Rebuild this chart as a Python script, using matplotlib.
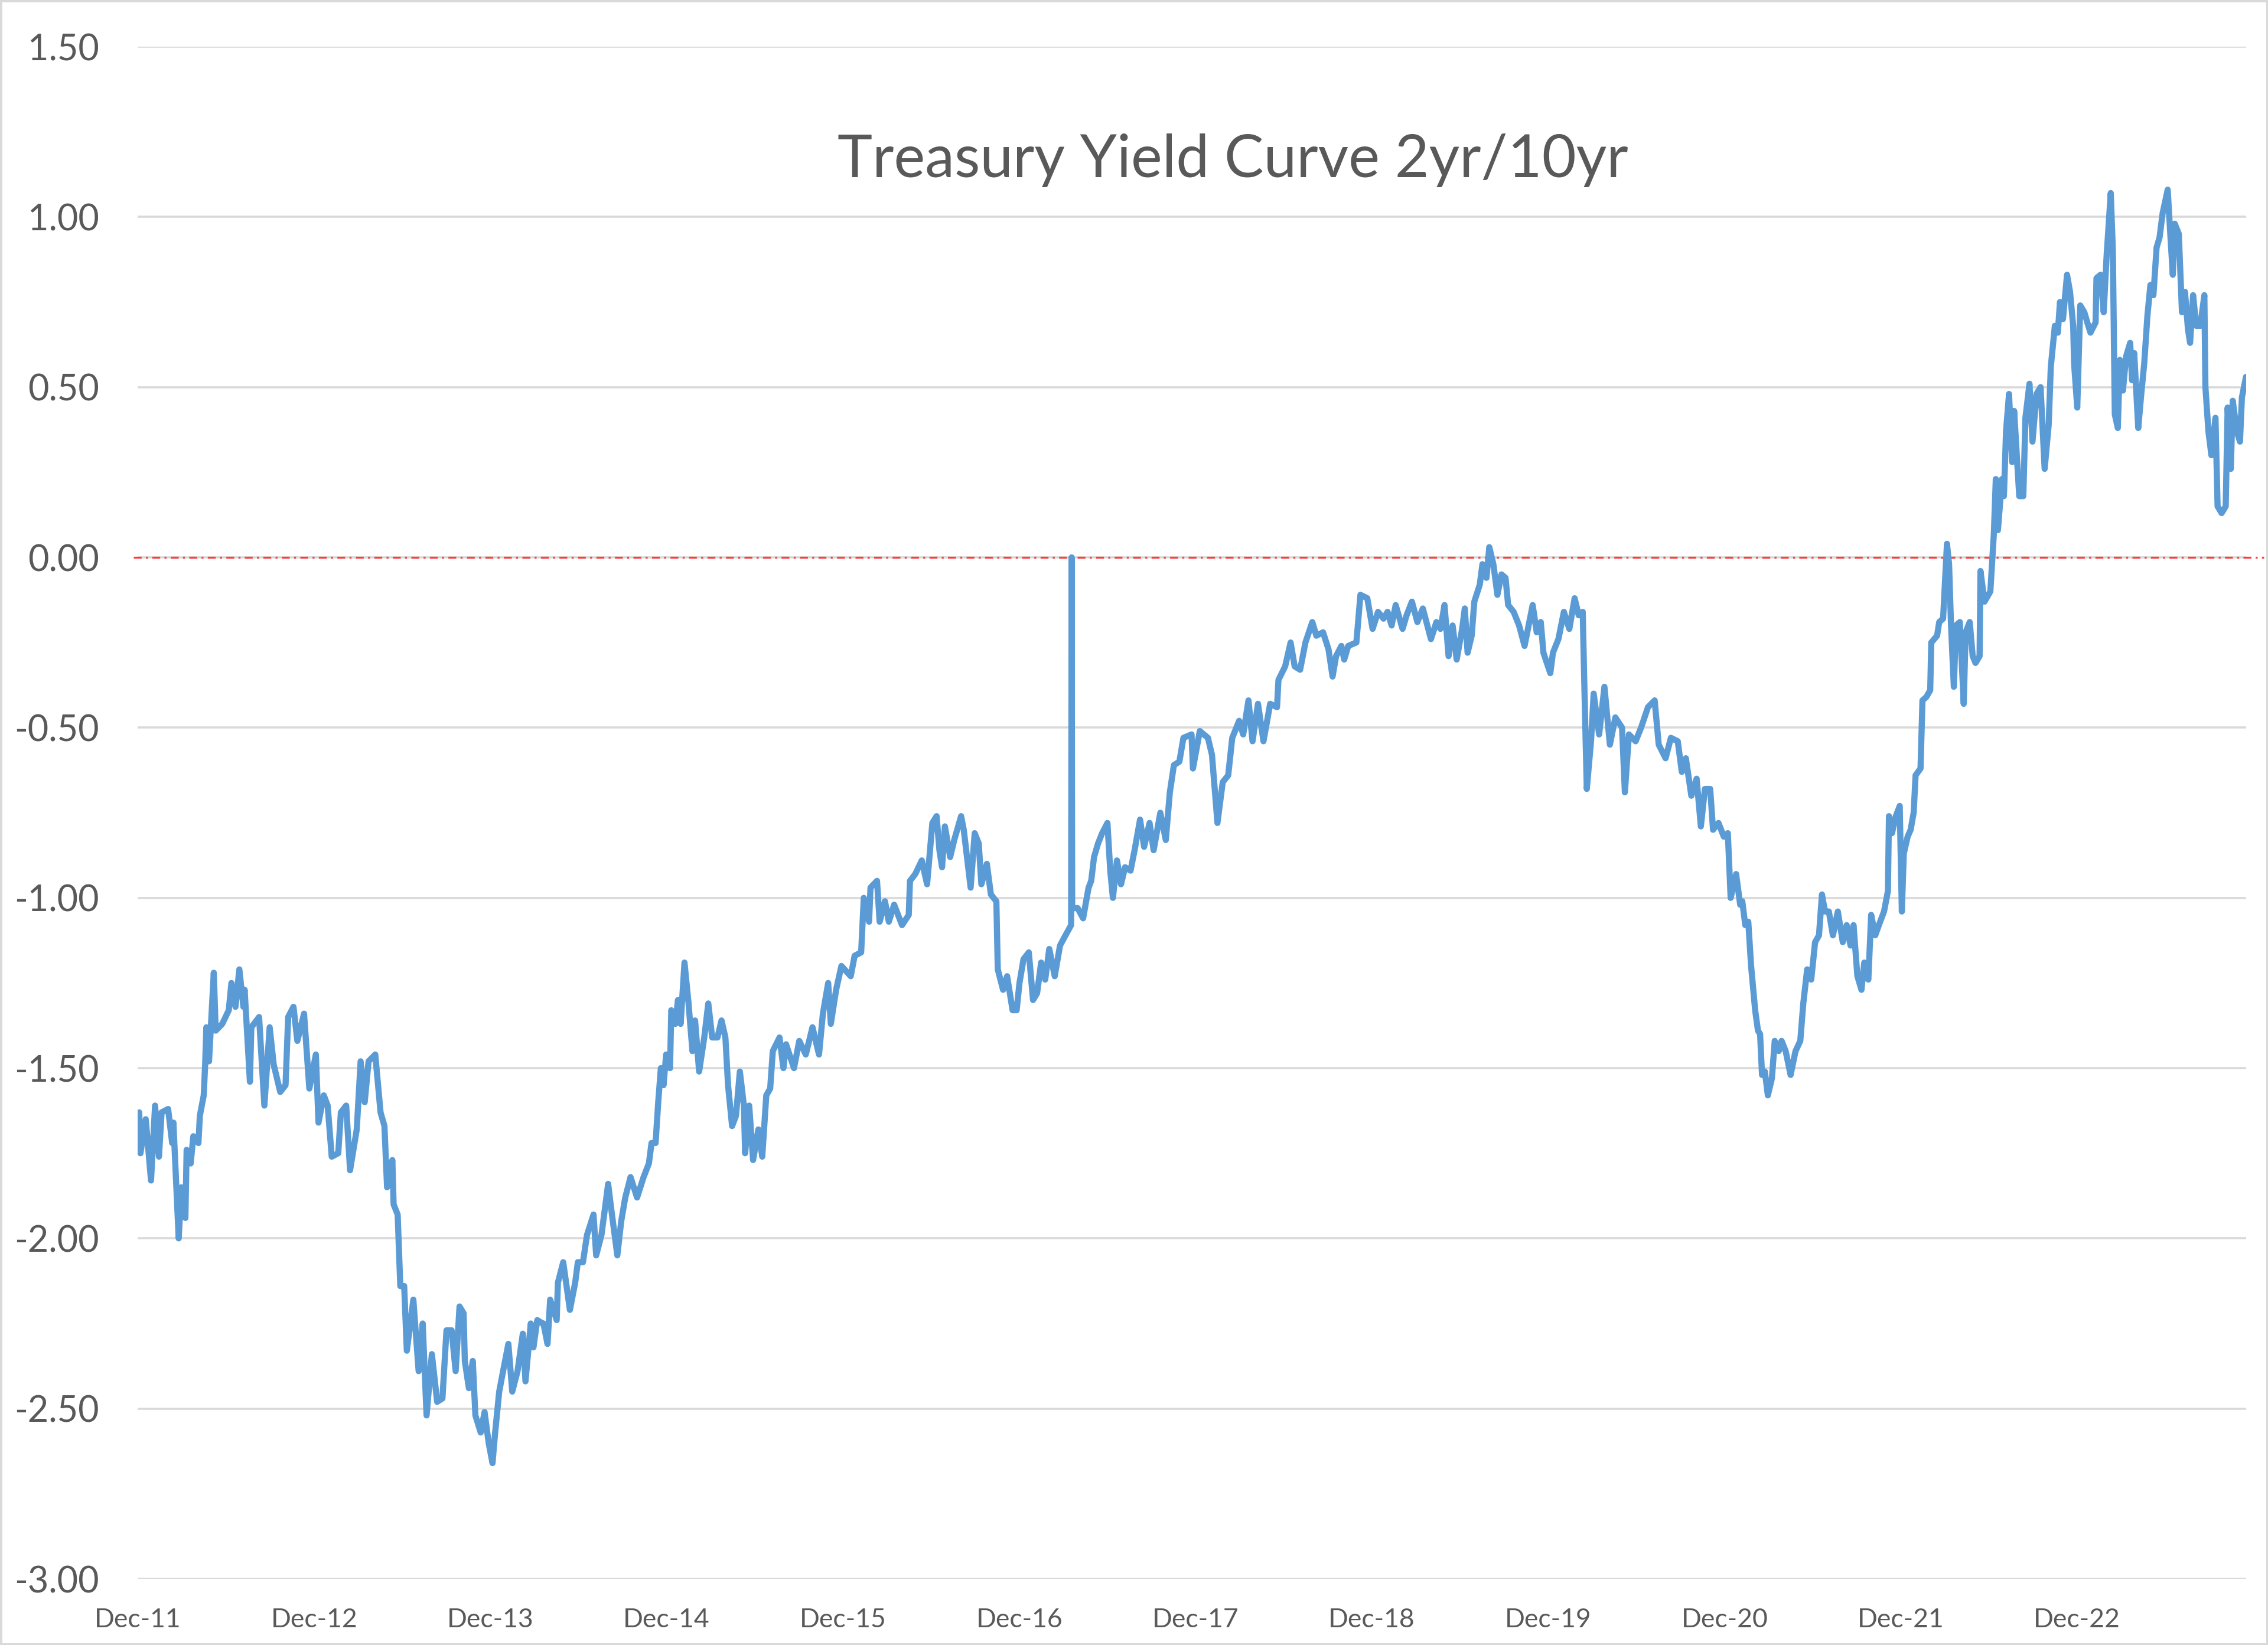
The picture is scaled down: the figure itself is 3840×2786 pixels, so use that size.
import numpy as np
import pandas as pd
import matplotlib
matplotlib.use("Agg")
import matplotlib.pyplot as plt
from matplotlib.patches import Rectangle

# ---------------- data ----------------
title = "Treasury Yield Curve 2yr/10yr"
start_date = "2011-12-01"

# time in years since Dec-2011
years = [
    0.009, 0.016, 0.046, 0.076, 0.099, 0.121, 0.136, 0.173, 0.196, 0.203,
    0.233, 0.248, 0.271, 0.278, 0.301, 0.316, 0.345, 0.353, 0.375, 0.383,
    0.390, 0.405, 0.432, 0.443, 0.480, 0.517, 0.532, 0.555, 0.577, 0.600,
    0.607, 0.637, 0.645, 0.689, 0.719, 0.749, 0.772, 0.809, 0.839, 0.854,
    0.884, 0.906, 0.944, 0.974, 1.011, 1.026, 1.056, 1.078, 1.101, 1.138,
    1.153, 1.183, 1.205, 1.243, 1.265, 1.288, 1.310, 1.348, 1.378, 1.400,
    1.415, 1.445, 1.452, 1.475, 1.490, 1.512, 1.527, 1.564, 1.594, 1.617,
    1.639, 1.669, 1.699, 1.729, 1.752, 1.781, 1.804, 1.826, 1.849, 1.856,
    1.879, 1.901, 1.916, 1.946, 1.968, 1.991, 2.013, 2.028, 2.051, 2.073,
    2.103, 2.125, 2.155, 2.185, 2.200, 2.230, 2.245, 2.267, 2.297,
    2.302, 2.325, 2.340, 2.377, 2.384, 2.414, 2.452, 2.482, 2.497, 2.526,
    2.549, 2.586, 2.601, 2.631, 2.669, 2.683, 2.721, 2.743, 2.766, 2.796,
    2.833, 2.870, 2.900, 2.915, 2.938, 2.953, 2.968, 2.983, 2.998, 3.020,
    3.027, 3.050, 3.065, 3.080, 3.102, 3.125, 3.147, 3.162, 3.185, 3.214,
    3.237, 3.259, 3.289, 3.312, 3.334, 3.349, 3.372, 3.394, 3.416, 3.439,
    3.446, 3.469, 3.491, 3.521, 3.543, 3.566, 3.588, 3.603, 3.641, 3.663,
    3.678, 3.723, 3.753, 3.790, 3.828, 3.865, 3.887, 3.917, 3.932, 3.962,
    3.992, 4.045, 4.067, 4.104, 4.119, 4.149, 4.157, 4.194, 4.209, 4.239,
    4.261, 4.291, 4.336, 4.374, 4.381, 4.411, 4.448, 4.478, 4.508,
    4.532, 4.548, 4.563, 4.579, 4.609, 4.632, 4.671, 4.686, 4.702, 4.725,
    4.748, 4.771, 4.786, 4.817, 4.840, 4.871, 4.879, 4.909, 4.932, 4.963,
    4.986, 5.002, 5.025, 5.055, 5.079, 5.102, 5.125, 5.148, 5.171, 5.202,
    5.232, 5.263, 5.295, 5.298, 5.301, 5.332, 5.363, 5.394, 5.409, 5.425,
    5.448, 5.471, 5.501, 5.517, 5.532, 5.555, 5.578, 5.601, 5.632, 5.655,
    5.686, 5.709, 5.740, 5.763, 5.801, 5.832, 5.855, 5.878, 5.909, 5.932,
    5.978, 5.986, 6.025, 6.071, 6.094, 6.125, 6.155, 6.186, 6.209, 6.248,
    6.271, 6.301, 6.324, 6.355, 6.386, 6.424, 6.463, 6.471, 6.509, 6.540,
    6.563, 6.594, 6.624, 6.663, 6.686, 6.724, 6.755, 6.778,
    6.798, 6.828, 6.844, 6.867, 6.913, 6.936, 6.975, 7.005, 7.036, 7.067,
    7.090, 7.113, 7.136, 7.175, 7.198, 7.228, 7.259, 7.290, 7.336, 7.367,
    7.390, 7.413, 7.436, 7.459, 7.482, 7.513, 7.528, 7.544, 7.567, 7.582,
    7.613, 7.628, 7.651, 7.667, 7.690, 7.713, 7.736, 7.759, 7.774, 7.805,
    7.836, 7.867, 7.890, 7.913, 7.936, 7.959, 7.974, 8.013, 8.028, 8.059,
    8.090, 8.121, 8.151, 8.174, 8.197, 8.205, 8.220, 8.244, 8.259, 8.290,
    8.320, 8.351, 8.382, 8.420, 8.436, 8.459, 8.497, 8.528, 8.567, 8.605,
    8.628, 8.667, 8.697, 8.736, 8.759, 8.782, 8.813, 8.843, 8.867, 8.890,
    8.920, 8.936, 8.967, 8.997, 9.020, 9.036, 9.067, 9.090,
    9.102, 9.119, 9.136, 9.152, 9.175, 9.191, 9.203, 9.214, 9.230, 9.247,
    9.270, 9.286, 9.309, 9.325, 9.348, 9.376, 9.404, 9.431, 9.448, 9.470,
    9.493, 9.515, 9.537, 9.554, 9.571, 9.593, 9.616, 9.644, 9.672, 9.694,
    9.716, 9.733, 9.755, 9.778, 9.794, 9.817, 9.833, 9.856, 9.884, 9.906,
    9.928, 9.934, 9.951, 9.973, 9.995, 10.007, 10.018, 10.040, 10.057, 10.074,
    10.085, 10.113, 10.124, 10.146, 10.168, 10.174, 10.207, 10.219, 10.241, 10.263,
    10.275, 10.286, 10.302, 10.314, 10.336, 10.358, 10.369, 10.392, 10.409, 10.425,
    10.448, 10.453, 10.476, 10.509,
    10.529, 10.540, 10.552, 10.575, 10.586, 10.598, 10.615, 10.633, 10.644, 10.673,
    10.696, 10.708, 10.731, 10.748, 10.771, 10.794, 10.817, 10.840, 10.852, 10.875,
    10.892, 10.904, 10.921, 10.944, 10.961, 10.979, 10.984, 11.002, 11.019, 11.042,
    11.059, 11.077, 11.106, 11.111, 11.134, 11.152, 11.169, 11.192, 11.204, 11.215,
    11.232, 11.244, 11.261, 11.279, 11.302, 11.313, 11.325, 11.348, 11.365, 11.382,
    11.400, 11.417, 11.434, 11.452, 11.469, 11.486, 11.515, 11.532, 11.544, 11.555,
    11.578, 11.596, 11.613, 11.630, 11.642, 11.659, 11.677, 11.700, 11.723, 11.729,
    11.746, 11.763, 11.786, 11.798, 11.821, 11.844, 11.855, 11.873, 11.884, 11.907,
    11.925, 11.936, 11.959,
]

spread = [
    -1.63, -1.75, -1.65, -1.83, -1.61, -1.76, -1.63, -1.62, -1.72, -1.66,
    -2.00, -1.85, -1.94, -1.74, -1.78, -1.70, -1.72, -1.64, -1.58, -1.49,
    -1.38, -1.48, -1.22, -1.39, -1.37, -1.33, -1.25, -1.32, -1.21, -1.32,
    -1.27, -1.54, -1.38, -1.35, -1.61, -1.38, -1.49, -1.57, -1.55, -1.35,
    -1.32, -1.42, -1.34, -1.56, -1.46, -1.66, -1.58, -1.61, -1.76, -1.75,
    -1.63, -1.61, -1.80, -1.68, -1.48, -1.60, -1.48, -1.46, -1.63, -1.67,
    -1.85, -1.77, -1.90, -1.93, -2.14, -2.14, -2.33, -2.18, -2.39, -2.25,
    -2.52, -2.34, -2.48, -2.47, -2.27, -2.27, -2.39, -2.20, -2.22, -2.36,
    -2.44, -2.36, -2.52, -2.57, -2.51, -2.60, -2.66, -2.57, -2.45, -2.39,
    -2.31, -2.45, -2.39, -2.28, -2.42, -2.25, -2.32, -2.24, -2.25,
    -2.25, -2.31, -2.18, -2.24, -2.13, -2.07, -2.21, -2.13, -2.07, -2.07,
    -1.99, -1.93, -2.05, -1.99, -1.84, -1.90, -2.05, -1.95, -1.88, -1.82,
    -1.88, -1.82, -1.78, -1.72, -1.72, -1.60, -1.50, -1.55, -1.46, -1.50,
    -1.33, -1.37, -1.30, -1.37, -1.19, -1.31, -1.45, -1.36, -1.51, -1.41,
    -1.31, -1.41, -1.41, -1.36, -1.41, -1.55, -1.67, -1.64, -1.51, -1.61,
    -1.75, -1.61, -1.77, -1.68, -1.76, -1.58, -1.56, -1.45, -1.41, -1.50,
    -1.43, -1.50, -1.42, -1.46, -1.38, -1.46, -1.34, -1.25, -1.37, -1.27,
    -1.20, -1.23, -1.17, -1.16, -1.00, -1.07, -0.97, -0.95, -1.07, -1.01,
    -1.07, -1.02, -1.08, -1.05, -0.95, -0.93, -0.89, -0.96, -0.78,
    -0.76, -0.86, -0.91, -0.79, -0.88, -0.83, -0.76, -0.80, -0.87, -0.97,
    -0.81, -0.84, -0.96, -0.90, -0.99, -1.01, -1.21, -1.27, -1.23, -1.33,
    -1.33, -1.25, -1.18, -1.16, -1.30, -1.28, -1.19, -1.24, -1.15, -1.23,
    -1.14, -1.11, -1.08, 0.00, -1.03, -1.03, -1.06, -0.97, -0.95, -0.88,
    -0.84, -0.81, -0.78, -0.92, -1.00, -0.89, -0.96, -0.91, -0.92, -0.86,
    -0.77, -0.85, -0.78, -0.86, -0.75, -0.83, -0.69, -0.61, -0.60, -0.53,
    -0.52, -0.62, -0.51, -0.53, -0.58, -0.78, -0.66, -0.64, -0.53, -0.48,
    -0.52, -0.42, -0.54, -0.43, -0.54, -0.43, -0.44, -0.36, -0.32, -0.25,
    -0.32, -0.33, -0.25, -0.19, -0.23, -0.22, -0.27, -0.35,
    -0.29, -0.26, -0.30, -0.26, -0.25, -0.11, -0.12, -0.21, -0.16, -0.18,
    -0.16, -0.20, -0.14, -0.21, -0.17, -0.13, -0.19, -0.15, -0.24, -0.19,
    -0.21, -0.14, -0.29, -0.20, -0.30, -0.21, -0.15, -0.28, -0.23, -0.13,
    -0.08, -0.02, -0.06, 0.03, -0.02, -0.11, -0.05, -0.06, -0.14, -0.16,
    -0.20, -0.26, -0.20, -0.14, -0.22, -0.19, -0.28, -0.34, -0.28, -0.24,
    -0.16, -0.21, -0.12, -0.17, -0.16, -0.35, -0.68, -0.54, -0.40, -0.52,
    -0.38, -0.55, -0.47, -0.50, -0.69, -0.52, -0.54, -0.50, -0.44, -0.42,
    -0.55, -0.59, -0.53, -0.54, -0.63, -0.59, -0.70, -0.65, -0.79, -0.68,
    -0.68, -0.80, -0.78, -0.82, -0.81, -1.00, -0.93, -1.02,
    -1.01, -1.08, -1.07, -1.20, -1.33, -1.39, -1.40, -1.52, -1.51, -1.58,
    -1.53, -1.42, -1.45, -1.42, -1.45, -1.52, -1.45, -1.42, -1.31, -1.21,
    -1.24, -1.13, -1.11, -0.99, -1.04, -1.04, -1.11, -1.04, -1.13, -1.08,
    -1.14, -1.08, -1.23, -1.27, -1.19, -1.24, -1.05, -1.11, -1.07, -1.04,
    -0.98, -0.76, -0.81, -0.76, -0.73, -1.04, -0.87, -0.82, -0.80, -0.75,
    -0.64, -0.62, -0.42, -0.41, -0.39, -0.25, -0.23, -0.19, -0.18, 0.04,
    -0.02, -0.20, -0.38, -0.20, -0.19, -0.43, -0.22, -0.19, -0.29, -0.31,
    -0.29, -0.04, -0.13, -0.10,
    0.07, 0.23, 0.08, 0.23, 0.18, 0.37, 0.48, 0.28, 0.43, 0.18,
    0.18, 0.41, 0.51, 0.34, 0.48, 0.50, 0.26, 0.39, 0.56, 0.68,
    0.66, 0.75, 0.70, 0.83, 0.78, 0.68, 0.57, 0.44, 0.74, 0.72,
    0.69, 0.66, 0.69, 0.82, 0.83, 0.72, 0.89, 1.07, 0.90, 0.42,
    0.38, 0.58, 0.49, 0.59, 0.63, 0.52, 0.60, 0.38, 0.48, 0.57,
    0.71, 0.80, 0.77, 0.91, 0.94, 1.01, 1.08, 0.93, 0.83, 0.98,
    0.95, 0.72, 0.78, 0.67, 0.63, 0.77, 0.68, 0.68, 0.77, 0.50,
    0.37, 0.30, 0.41, 0.15, 0.13, 0.15, 0.44, 0.26, 0.46, 0.37,
    0.34, 0.47, 0.53,
]

x_tick_labels = ["Dec-11", "Dec-12", "Dec-13", "Dec-14", "Dec-15", "Dec-16",
                 "Dec-17", "Dec-18", "Dec-19", "Dec-20", "Dec-21", "Dec-22"]
x_tick_dates = ["2011-12-01", "2012-12-01", "2013-12-01", "2014-12-01",
                "2015-12-01", "2016-12-01", "2017-12-01", "2018-12-01",
                "2019-12-01", "2020-12-01", "2021-12-01", "2022-12-01"]
y_ticks = [-3.0, -2.5, -2.0, -1.5, -1.0, -0.5, 0.0, 0.5, 1.0, 1.5]
x_end_years = 11.96

# ---------------- figure ----------------
plt.rcParams["font.family"] = ["Lato", "DejaVu Sans"]
W, H = 3840, 2786
fig = plt.figure(figsize=(W / 100, H / 100), dpi=100)
fig.patch.set_facecolor("white")

left, right, top, bottom = 233, 3803, 79, 2674
ax = fig.add_axes([left / W, 1 - bottom / H, (right - left) / W, (bottom - top) / H])

t0 = pd.Timestamp(start_date)
dates = t0 + pd.to_timedelta(np.array(years) * 365.25, unit="D")
x_end = t0 + pd.Timedelta(days=x_end_years * 365.25)

ax.plot(dates, spread, color="#5B9BD5", lw=7.5, solid_joinstyle="round",
        solid_capstyle="round", zorder=3)

# zero reference line (red dash-dot), slightly overhanging right edge
ax.plot([-0.002, 1.0085], [0, 0], transform=ax.get_yaxis_transform(),
        color="#FF3B3B", lw=2.4, dashes=(4, 2.2, 1, 2.2), clip_on=False, zorder=2)

ax.set_xlim(t0, x_end)
ax.set_ylim(-3.0, 1.5)

ax.set_yticks(y_ticks)
ax.set_yticklabels([f"{v:.2f}" for v in y_ticks])
ax.set_xticks(pd.to_datetime(x_tick_dates))
ax.set_xticklabels(x_tick_labels)

ax.yaxis.grid(True, color="#D9D9D9", lw=2.6)
ax.xaxis.grid(False)
ax.set_axisbelow(True)
for s in ax.spines.values():
    s.set_visible(False)

ax.tick_params(axis="y", length=0, pad=47, labelsize=44, labelcolor="#595959")
ax.tick_params(axis="x", length=0, pad=35, labelsize=32, labelcolor="#595959")

fig.text(2087 / W, 1 - 300 / H, title, ha="center", va="baseline",
         fontsize=72, color="#595959")

# chart-area border
fig.patches.append(Rectangle((0, 0), 1, 1, transform=fig.transFigure,
                             fill=False, edgecolor="#D9D9D9", lw=5))

fig.savefig("out.png", dpi=100, facecolor="white")
